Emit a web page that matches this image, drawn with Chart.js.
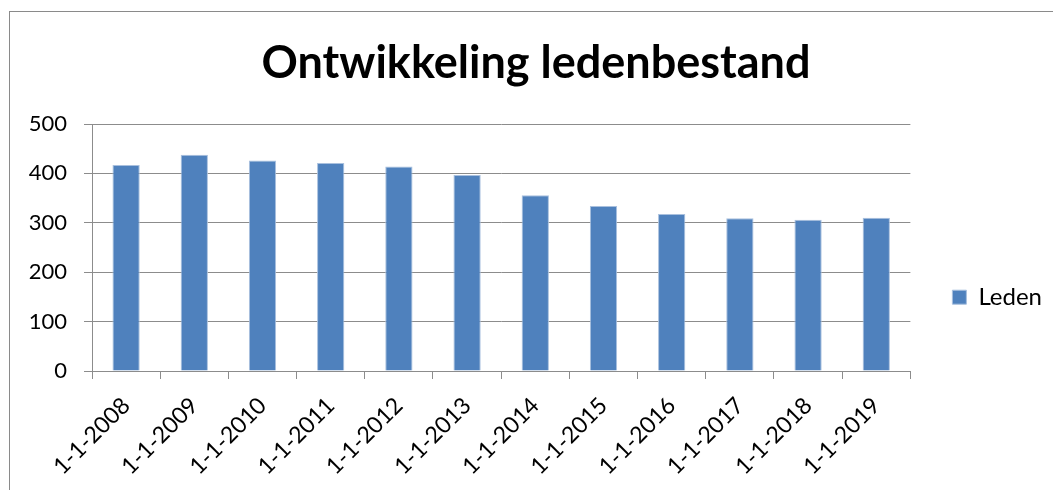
<!DOCTYPE html>
<html>
<head>
<meta charset="utf-8">
<script src="https://cdn.jsdelivr.net/npm/chart.js@4.4.1/dist/chart.umd.min.js"></script>
<style>
  html, body { margin: 0; padding: 0; background: #fff; overflow: hidden; }
  #frame { position: absolute; left: 9px; top: 11px; width: 1200px; height: 700px; border: 1px solid #8a8a8a; }
  #chart { position: absolute; left: 0; top: 0; }
</style>
</head>
<body>
<div id="frame"></div>
<canvas id="chart" width="1053" height="490"></canvas>
<script>
// chart data
const categories = [
  '1-1-2008', '1-1-2009', '1-1-2010', '1-1-2011', '1-1-2012', '1-1-2013',
  '1-1-2014', '1-1-2015', '1-1-2016', '1-1-2017', '1-1-2018', '1-1-2019'
];
const leden = [417, 438, 426, 421, 414, 397, 356, 334, 318, 309, 306, 310];
const seriesName = 'Leden';
const chartTitle = 'Ontwikkeling ledenbestand';
const yTicks = [0, 100, 200, 300, 400, 500];

const gridColor = '#8c8c8c';
const font = 'Lato';

const ctx = document.getElementById('chart').getContext('2d');

new Chart(ctx, {
  type: 'bar',
  data: {
    labels: categories,
    datasets: [{
      label: seriesName,
      data: leden,
      backgroundColor: '#4f81bd',
      borderColor: '#a9c0de',
      borderWidth: 1,
      barPercentage: 0.4,
      categoryPercentage: 1.0
    }]
  },
  options: {
    responsive: false,
    animation: false,
    layout: { padding: { left: 20, right: 1, top: 0, bottom: 0 } },
    plugins: {
      title: {
        display: true,
        text: chartTitle,
        color: '#000',
        font: { family: font, size: 45, weight: 'bold' },
        padding: { top: 36, bottom: 34 }
      },
      legend: {
        position: 'right',
        // empty legend title only pushes the single entry down to the plot middle
        title: { display: true, text: ' ', font: { size: 12 }, padding: { top: 45, bottom: 45 } },
        labels: {
          color: '#000',
          font: { family: font, size: 24 },
          boxWidth: 14,
          boxHeight: 14,
          padding: 42
        }
      },
      tooltip: { enabled: false }
    },
    scales: {
      x: {
        grid: { drawOnChartArea: false, drawTicks: true, tickLength: 8, color: gridColor, offset: true },
        border: { color: gridColor },
        ticks: {
          color: '#000',
          font: { family: font, size: 23 },
          minRotation: 45,
          maxRotation: 45,
          padding: 13
        },
        afterFit: (scale) => { scale.height = 119; }
      },
      y: {
        min: 0,
        max: 500,
        afterBuildTicks: (scale) => { scale.ticks = yTicks.map(v => ({ value: v })); },
        grid: { color: gridColor, tickLength: 8 },
        border: { color: gridColor },
        ticks: {
          color: '#000',
          font: { family: font, size: 22 },
          padding: 17
        },
        afterFit: (scale) => { scale.width = 72; }
      }
    }
  }
});
</script>
</body>
</html>
